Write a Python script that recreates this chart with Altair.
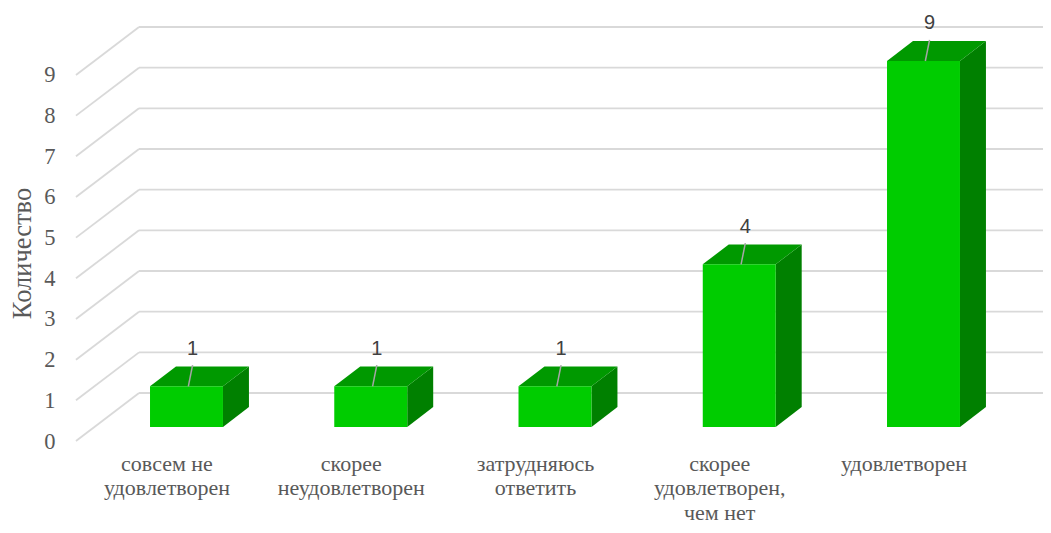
import json
import altair as alt
import pandas as pd

# ---- data ----
categories = [
    ["совсем не", "удовлетворен"],
    ["скорее", "неудовлетворен"],
    ["затрудняюсь", "ответить"],
    ["скорее", "удовлетворен,", "чем нет"],
    ["удовлетворен"],
]
values = [1, 1, 1, 4, 9]
y_ticks = [0, 1, 2, 3, 4, 5, 6, 7, 8, 9]
y_title = "Количество"

# ---- layout constants (scale units) ----
X_MIN, X_MAX = -0.5997, 4.6486
Y_MAX = 10.647
HALF = 0.198          # half bar width
BASE = 0.344          # bar front-face bottom above the front floor edge
TOP_DX, TOP_DY = 0.141, 0.49   # bar depth projection
FLOOR_DX, FLOOR_DY = 0.342, 1.18  # floor depth projection
LBL_DX = 0.033

FRONT = "#00cc00"
TOPC = "#009900"
SIDE = "#008000"
GRID = "#d9d9d9"
TXT = "#595959"

xs = alt.Scale(domain=[X_MIN, X_MAX], nice=False, zero=False)
ys = alt.Scale(domain=[0, Y_MAX], nice=False, zero=False)

idx = list(range(len(values)))
bars = pd.DataFrame({"i": idx, "v": values})
bars["x0"] = bars.i - HALF
bars["x1"] = bars.i + HALF
bars["y0"] = BASE
bars["y1"] = bars.v + BASE
bars["lx"] = bars.i + LBL_DX
bars["ly"] = bars.v + BASE + 0.93
bars["lt"] = bars.v + BASE + 0.52
bars["lbx"] = bars.i + 0.01

top_rows, side_rows = [], []
for i, v in zip(idx, values):
    top_rows.append({"bar": i, "y": v + BASE, "xa": i - HALF, "xb": i + HALF})
    top_rows.append({"bar": i, "y": v + BASE + TOP_DY, "xa": i - HALF + TOP_DX, "xb": i + HALF + TOP_DX})
    side_rows.append({"bar": i, "x": i + HALF, "ya": v + BASE, "yb": BASE})
    side_rows.append({"bar": i, "x": i + HALF + TOP_DX, "ya": v + BASE + TOP_DY, "yb": BASE + TOP_DY})
tops = pd.DataFrame(top_rows)
sides = pd.DataFrame(side_rows)

grid = pd.DataFrame({"t": y_ticks})
grid["x0"] = X_MIN
grid["x1"] = X_MIN + FLOOR_DX
grid["x2"] = X_MAX
grid["yb"] = grid.t + FLOOR_DY

label_expr = json.dumps(categories, ensure_ascii=False) + "[round(datum.value)]"

XAX = alt.Axis(values=idx, labelExpr=label_expr, title=None, grid=False,
               domain=False, ticks=False, labelFont="Liberation Serif",
               labelFontSize=22, labelColor=TXT, labelPadding=12,
               labelLineHeight=24.5, labelOffset=-20, labelAngle=0,
               labelOverlap=False, labelBound=False, labelFlush=False)
YAX = alt.Axis(values=y_ticks, title=y_title, grid=False, domain=False,
               ticks=False, labelFont="Liberation Serif", labelFontSize=22.5,
               labelColor=TXT, labelPadding=21, titleFont="Liberation Serif",
               titleFontSize=26.5, titleFontWeight="normal", titleColor=TXT,
               titleAngle=270, titleX=-54, titleY=245, titleAlign="center",
               titleBaseline="middle", labelFlush=False, labelOverlap=False)


def X(f):
    return alt.X(f, scale=xs, axis=XAX, title=None)


def Y(f):
    return alt.Y(f, scale=ys, axis=YAX, title=y_title)


diag = alt.Chart(grid).mark_rule(color=GRID, strokeWidth=1.8).encode(
    x=X("x0:Q"), x2="x1:Q", y=Y("t:Q"), y2="yb:Q",
)

back = alt.Chart(grid).mark_rule(color=GRID, strokeWidth=1.8).encode(
    x=X("x1:Q"), x2="x2:Q", y=Y("yb:Q"),
)

side = alt.Chart(sides).mark_area(color=SIDE, opacity=1).encode(
    x=X("x:Q"), y=Y("ya:Q"), y2="yb:Q", detail="bar:N",
)

top = alt.Chart(tops).mark_area(color=TOPC, opacity=1, orient="horizontal").encode(
    y=Y("y:Q"), x=X("xa:Q"), x2="xb:Q", detail="bar:N",
)

front = alt.Chart(bars).mark_rect(color=FRONT).encode(
    x=X("x0:Q"), x2="x1:Q", y=Y("y0:Q"), y2="y1:Q",
)

leader = alt.Chart(bars).mark_rule(color="#a6a6a6", strokeWidth=1.5).encode(
    x=X("lx:Q"), x2="lbx:Q", y=Y("lt:Q"), y2="y1:Q",
)

labels = alt.Chart(bars).mark_text(font="Liberation Sans", fontSize=20, color="#404040",
                                   align="center", baseline="middle").encode(
    x=X("lx:Q"), y=Y("ly:Q"), text="v:Q",
)

chart = alt.layer(diag, back, side, top, front, leader, labels).properties(
    width=967, height=433,
    background="white",
    autosize=alt.AutoSizeParams(type="none"),
    padding={"left": 68, "top": 0, "right": 0, "bottom": 84},
).configure_view(stroke="transparent", strokeWidth=0)

chart.save("out.html", embed_options={"renderer": "svg", "actions": False})
